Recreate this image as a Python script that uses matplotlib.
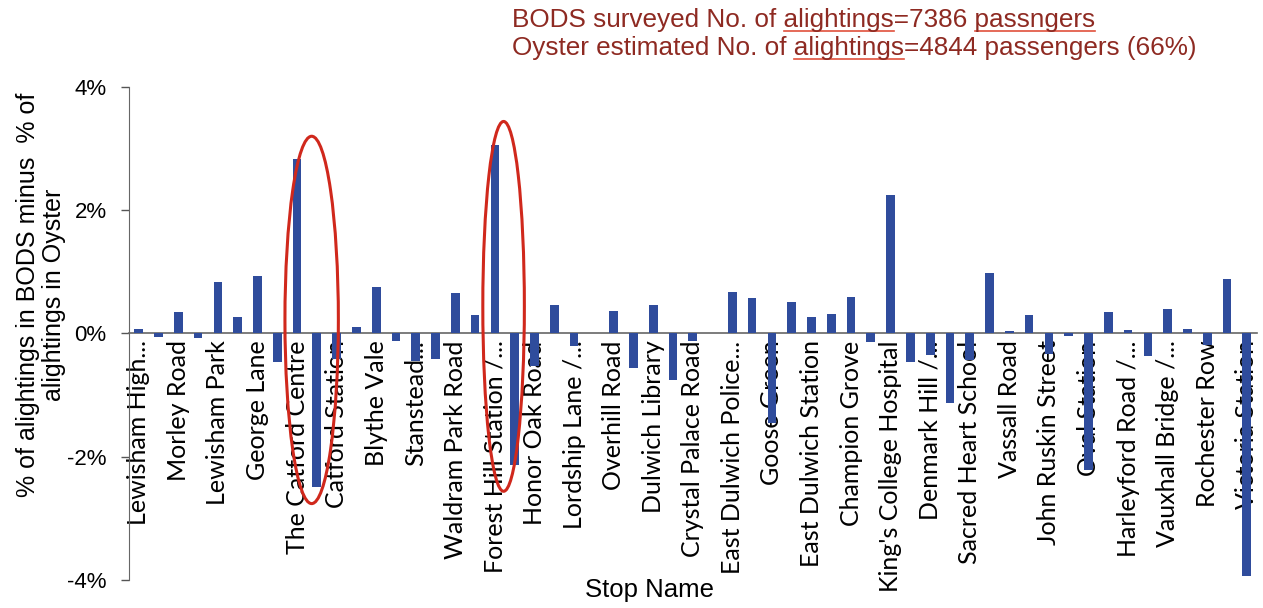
import matplotlib
matplotlib.use('Agg')
import matplotlib.pyplot as plt
import matplotlib.patches as mpatches
from matplotlib.ticker import FuncFormatter
import numpy as np

# 站名（只显示偶数位置的标签）
stop_labels = ['Lewisham High...', 'Morley Road', 'Lewisham Park', 'George Lane',
               'The Catford Centre', 'Catford Station', 'Blythe Vale', 'Stanstead...',
               'Waldram Park Road', 'Forest Hill Station /...', 'Honor Oak Road',
               'Lordship Lane /...', 'Overhill Road', 'Dulwich Library',
               'Crystal Palace Road', 'East Dulwich Police...', 'Goose Green',
               'East Dulwich Station', 'Champion Grove', "King's College Hospital",
               'Denmark Hill /...', 'Sacred Heart School', 'Vassall Road',
               'John Ruskin Street', 'Oval Station', 'Harleyford Road /...',
               'Vauxhall Bridge /...', 'Rochester Row', 'Victoria Station']

# % BODS minus % Oyster, one value per stop (57 stops)
diff_pct = [0.08, -0.06, 0.35, -0.08, 0.83, 0.26, 0.94, -0.47, 2.83, -2.49,
            -0.42, 0.10, 0.75, -0.12, -0.45, -0.42, 0.65, 0.30, 3.06, -2.13,
            -0.53, 0.47, -0.21, 0.0, 0.37, -0.56, 0.47, -0.75, -0.12, 0.0,
            0.67, 0.58, -1.46, 0.51, 0.27, 0.32, 0.59, -0.13, 2.24, -0.46,
            -0.35, -1.12, -0.43, 0.98, 0.04, 0.30, -0.33, -0.04, -2.22, 0.35,
            0.05, -0.37, 0.39, 0.07, -0.19, 0.89, -3.94]

note_lines = ['BODS surveyed No. of alightings=7386 passngers',
              'Oyster estimated No. of alightings=4844 passengers (66%)']
# 拼写检查的红色下划线：(行号, 前缀, 单词)
squiggles = [(0, 'BODS surveyed No. of ', 'alightings'),
             (0, 'BODS surveyed No. of alightings=7386 ', 'passngers'),
             (1, 'Oyster estimated No. of ', 'alightings')]

if __name__ == '__main__':
    fig = plt.figure(figsize=(12.63, 6.08), dpi=100, facecolor='white')
    ax = fig.add_axes([0.102, 0.046, 0.893, 0.811])

    x = np.arange(len(diff_pct))
    ax.bar(x, diff_pct, width=0.44, color='#2F4C9C', zorder=3)

    ax.set_xlim(-0.5, len(diff_pct) - 0.5)
    ax.set_ylim(-4, 4)
    ax.set_yticks([-4, -2, 0, 2, 4])
    ax.yaxis.set_major_formatter(FuncFormatter(lambda v, p: '%d%%' % v))
    ax.tick_params(axis='y', length=6, width=1, color='#555555', pad=10,
                   labelsize=16)
    for t in ax.get_yticklabels():
        t.set_family('Liberation Sans')

    # x 轴在 0 位置
    ax.spines['top'].set_visible(False)
    ax.spines['right'].set_visible(False)
    ax.spines['bottom'].set_position(('data', 0))
    ax.spines['bottom'].set_color('#666666')
    ax.spines['left'].set_color('#666666')
    ax.spines['bottom'].set_lw(1.2)

    ax.set_xticks(x[::2])
    ax.set_xticklabels(stop_labels, rotation=90, va='top', ha='center',
                       family='Lato', fontsize=18)
    ax.tick_params(axis='x', length=0, pad=5)

    ax.set_ylabel('% of alightings in BODS minus  % of\nalightings in Oyster',
                  family='Liberation Sans', fontsize=18, linespacing=1.1,
                  va='center', ha='center')
    ax.yaxis.set_label_coords(-0.078, 0.578)
    fig.text(0.514, 0.029, 'Stop Name', family='Liberation Sans', fontsize=18.5,
             ha='center', va='center')

    # 红色椭圆
    ax.add_patch(mpatches.Ellipse((8.74, 0.22), 2.7, 5.96, fill=False,
                                  ec='#D0281C', lw=2.2, zorder=4))
    ax.add_patch(mpatches.Ellipse((18.44, 0.44), 2.1, 6.0, fill=False,
                                  ec='#D0281C', lw=2.2, zorder=4))

    # 顶部注释
    note_y = [1 - 20 / 608, 1 - 48 / 608]
    note_x = 512 / 1263
    for line, yy in zip(note_lines, note_y):
        fig.text(note_x, yy, line, family='Liberation Sans',
                 fontsize=18.8, color='#8E2A22', va='center')

    renderer = fig.canvas.get_renderer()
    for row, prefix, word in squiggles:
        t0 = fig.text(note_x, note_y[row], prefix, family='Liberation Sans',
                      fontsize=18.8, va='center', alpha=0)
        t1 = fig.text(note_x, note_y[row], prefix + word, family='Liberation Sans',
                      fontsize=18.8, va='center', alpha=0)
        x0 = t0.get_window_extent(renderer).x1 / fig.bbox.width
        x1 = t1.get_window_extent(renderer).x1 / fig.bbox.width
        yl = note_y[row] - 11 / 608
        fig.add_artist(plt.Line2D([x0, x1], [yl, yl], color='#E0503C', lw=1.2,
                                  transform=fig.transFigure))

    fig.savefig('out.png', dpi=100, facecolor='white')
